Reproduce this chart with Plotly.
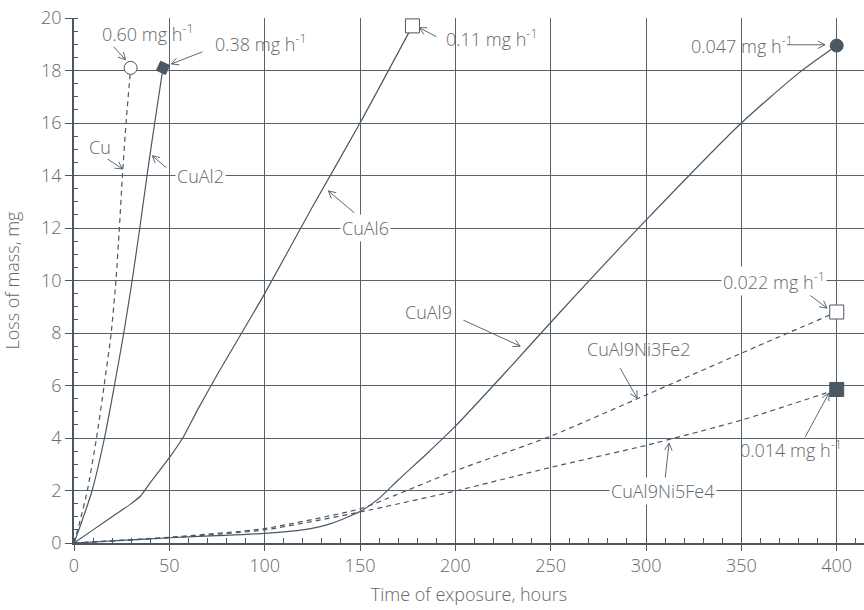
import math
import plotly.graph_objects as go

# ---------------- data ----------------
cu_x = [0, 3, 7, 11.8, 15.8, 19.5, 22, 23.8, 25.4, 27.3, 29.7]
cu_y = [0, 0.8, 2, 4, 6, 8, 10, 12, 14, 16, 18.1]

cual2_x = [0, 4, 9.5, 16, 21.2, 26.1, 30.5, 34.5, 38.3, 42.3, 46.7]
cual2_y = [0, 0.8, 2, 4, 6, 8, 10, 12, 14, 16, 18.1]

cual6_x = [0, 10, 20, 30, 35, 40, 50, 57, 65, 75, 100, 125, 150, 177.5]
cual6_y = [0, 0.5, 1.0, 1.5, 1.8, 2.3, 3.25, 4.0, 5.1, 6.4, 9.5, 12.8, 16.0, 19.7]

cual9_x = [0, 25, 50, 75, 100, 120, 135, 150, 160, 170, 185, 200, 225, 255, 300, 350, 380, 400]
cual9_y = [0, 0.1, 0.2, 0.28, 0.37, 0.5, 0.75, 1.2, 1.7, 2.4, 3.4, 4.45, 6.4, 8.8, 12.3, 16.0, 17.9, 18.95]

ni3fe2_x = [0, 50, 100, 150, 160, 200, 250, 300, 350, 400]
ni3fe2_y = [0, 0.22, 0.55, 1.3, 1.57, 2.75, 4.07, 5.64, 7.23, 8.8]

ni5fe4_x = [0, 50, 100, 150, 200, 250, 300, 350, 400]
ni5fe4_y = [0, 0.2, 0.5, 1.18, 1.98, 2.88, 3.72, 4.68, 5.85]

x_ticks = [0, 50, 100, 150, 200, 250, 300, 350, 400]
y_ticks = [0, 2, 4, 6, 8, 10, 12, 14, 16, 18, 20]

# label texts with (text x, text y, white background)
labels = [
    ("0.60 mg h<sup>-1</sup>", 39.0, 19.43, False),
    ("0.38 mg h<sup>-1</sup>", 98.3, 19.06, False),
    ("Cu", 13.4, 15.09, False),
    ("CuAl2", 66.3, 14.0, True),
    ("CuAl6", 153.0, 12.0, True),
    ("0.11 mg h<sup>-1</sup>", 219.1, 19.25, False),
    ("0.047 mg h<sup>-1</sup>", 350.4, 18.98, False),
    ("CuAl9", 185.8, 8.80, False),
    ("CuAl9Ni3Fe2", 295.9, 7.39, False),
    ("0.022 mg h<sup>-1</sup>", 367.1, 10.0, True),
    ("0.014 mg h<sup>-1</sup>", 375.8, 3.57, False),
    ("CuAl9Ni5Fe4", 308.9, 2.0, True),
]
# leader arrows: (tail x, tail y, head x, head y)
arrows = [
    (20.7, 18.91, 27.0, 18.41),
    (67.3, 18.71, 51.1, 18.25),
    (17.6, 14.63, 25.4, 14.25),
    (48.5, 14.29, 41.1, 14.75),
    (147.0, 12.58, 133.4, 13.41),
    (190.0, 19.29, 181.1, 19.63),
    (373.9, 18.98, 393.8, 18.98),
    (204.2, 8.49, 234.0, 7.50),
    (286.4, 6.66, 295.3, 5.52),
    (382.3, 9.64, 394.9, 8.95),
    (383.4, 4.03, 395.9, 5.71),
    (310.0, 2.47, 312.1, 3.80),
]

LINE = "#4b5763"
GRID = "#56626c"
TEXT = "#62686e"
FONT = "Open Sans"
FS = 18
FW = 300

W, H = 864, 610
ML, MR, MT, MB = 73.5, 0, 18, 67.3
XR = [0, 414.3]
YR = [0, 20]
SX = (W - ML - MR) / (XR[1] - XR[0])   # px per x unit
SY = (H - MT - MB) / (YR[1] - YR[0])   # px per y unit

fig = go.Figure()

series = [
    (cu_x, cu_y, "dash", dict(symbol="circle", size=13, color="white", line=dict(color=LINE, width=1))),
    (cual2_x, cual2_y, "solid", dict(symbol="square", size=10, angle=25, color=LINE, line=dict(color=LINE, width=1))),
    (cual6_x, cual6_y, "solid", dict(symbol="square", size=14, color="white", line=dict(color=LINE, width=1))),
    (cual9_x, cual9_y, "solid", dict(symbol="circle", size=13, color=LINE, line=dict(color=LINE, width=1))),
    (ni3fe2_x, ni3fe2_y, "dash", dict(symbol="square", size=14, color="white", line=dict(color=LINE, width=1))),
    (ni5fe4_x, ni5fe4_y, "dash", dict(symbol="square", size=14, color=LINE, line=dict(color=LINE, width=1))),
]

for xs, ys, dash, mk in series:
    fig.add_trace(go.Scatter(
        x=xs, y=ys, mode="lines",
        line=dict(color=LINE, width=1.2, shape="spline", smoothing=0.6,
                  dash="5px,4px" if dash == "dash" else "solid"),
        hoverinfo="skip", showlegend=False,
    ))

# leader arrows (shaft + open V head) as one line trace
BARB = 8.0
ANG = math.radians(28)
arr_x, arr_y = [], []
for (tx, ty, hx, hy) in arrows:
    dx = (hx - tx) * SX
    dy = (hy - ty) * SY
    ln = math.hypot(dx, dy)
    ux, uy = dx / ln, dy / ln
    barbs = []
    for s in (1, -1):
        c, si = math.cos(s * ANG), math.sin(s * ANG)
        bx = -(ux * c - uy * si) * BARB
        by = -(ux * si + uy * c) * BARB
        barbs.append((hx + bx / SX, hy + by / SY))
    arr_x += [tx, hx, None, barbs[0][0], hx, barbs[1][0], None]
    arr_y += [ty, hy, None, barbs[0][1], hy, barbs[1][1], None]
fig.add_trace(go.Scatter(
    x=arr_x, y=arr_y, mode="lines", line=dict(color=LINE, width=0.9),
    connectgaps=False, hoverinfo="skip", showlegend=False, cliponaxis=False,
))

for xs, ys, dash, mk in series:
    fig.add_trace(go.Scatter(
        x=[xs[-1]], y=[ys[-1]], mode="markers", marker=mk,
        hoverinfo="skip", showlegend=False,
    ))

annotations = []
for (txt, tx, ty, bg) in labels:
    annotations.append(dict(
        x=tx, y=ty, xref="x", yref="y", text=txt, showarrow=False,
        font=dict(family=FONT, size=FS, color=TEXT, weight=FW),
        bgcolor="white" if bg else "rgba(0,0,0,0)", borderpad=1,
        xanchor="center", yanchor="middle",
    ))

fig.update_layout(
    width=W, height=H,
    margin=dict(l=ML, r=MR, t=MT, b=MB),
    paper_bgcolor="white", plot_bgcolor="white",
    font=dict(family=FONT, size=FS, color=TEXT, weight=FW),
    annotations=annotations,
    xaxis=dict(
        range=XR, tickvals=x_ticks, ticktext=[str(v) for v in x_ticks],
        showgrid=True, gridcolor=GRID, gridwidth=1,
        showline=True, linecolor=LINE, linewidth=1.5,
        ticks="outside", ticklen=6, tickcolor=LINE, tickwidth=1.2,
        minor=dict(dtick=10, ticks="inside", ticklen=5, tickcolor=LINE, tickwidth=1, showgrid=False),
        zeroline=False,
        title=dict(text="Time of exposure, hours", font=dict(size=FS, color=TEXT, weight=FW), standoff=12),
        tickfont=dict(size=FS, color=TEXT, weight=FW),
    ),
    yaxis=dict(
        range=YR, tickvals=y_ticks, ticktext=[str(v) for v in y_ticks],
        showgrid=True, gridcolor=GRID, gridwidth=1,
        showline=True, linecolor=LINE, linewidth=1.5,
        ticks="outside", ticklen=7, tickcolor=LINE, tickwidth=1.2,
        minor=dict(dtick=0.5, ticks="inside", ticklen=4, tickcolor=LINE, tickwidth=1, showgrid=False),
        zeroline=False,
        title=dict(text="Loss of mass, mg", font=dict(size=FS, color=TEXT, weight=FW), standoff=18),
        tickfont=dict(size=FS, color=TEXT, weight=FW),
    ),
)

fig.write_html("out.html")
